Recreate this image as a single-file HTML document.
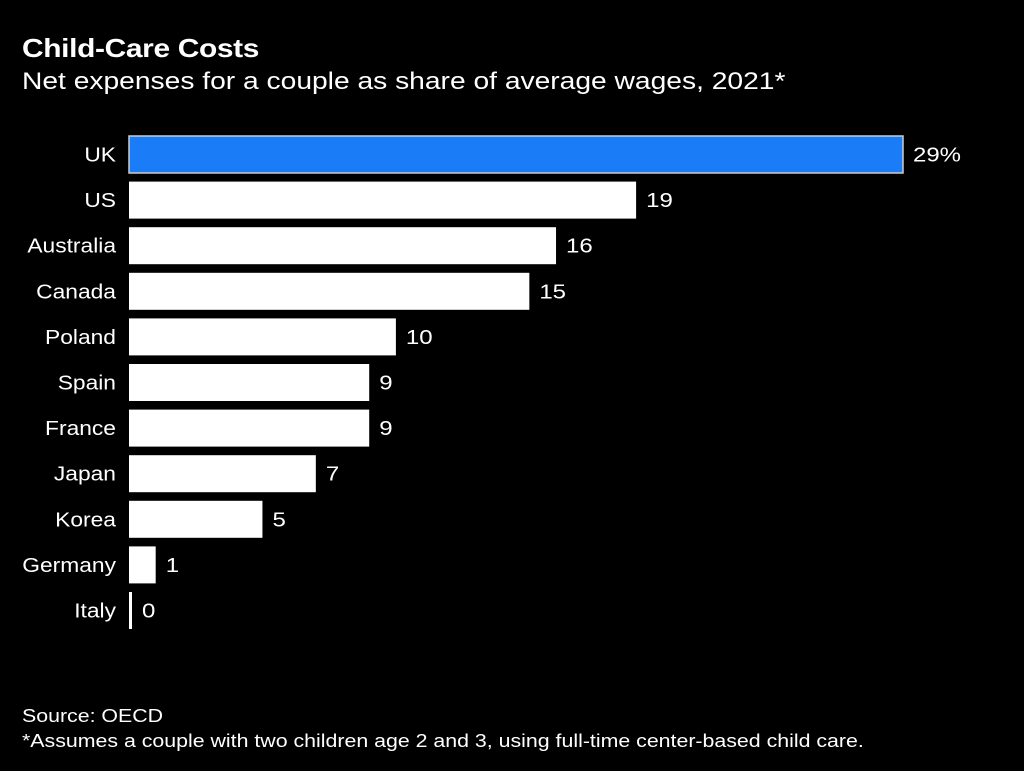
<!DOCTYPE html>
<html><head><meta charset="utf-8"><style>
body{margin:0;background:#000;width:1024px;height:771px;overflow:hidden;font-family:"Liberation Sans",sans-serif;color:#fff}
.t{position:absolute;white-space:nowrap;transform-origin:0 0}
</style></head><body>
<div class="t" style="left:22px;top:33px;font-size:26px;font-weight:bold;letter-spacing:-0.3px;transform:scaleX(1.15)">Child-Care Costs</div>
<div class="t" style="left:22px;top:68px;font-size:24px;transform:scaleX(1.175)">Net expenses for a couple as share of average wages, 2021*</div>
<svg id="c" width="1024" height="680" style="position:absolute;left:0;top:0"></svg>
<div class="t" style="left:22px;top:706px;font-size:18px;transform:scaleX(1.185)">Source: OECD</div>
<div class="t" style="left:22px;top:731px;font-size:18px;transform:scaleX(1.185)">*Assumes a couple with two children age 2 and 3, using full-time center-based child care.</div>
<script>
const categories=["UK","US","Australia","Canada","Poland","Spain","France","Japan","Korea","Germany","Italy"];
const values=[29,19,16,15,10,9,9,7,5,1,0.1];
const labels=["29%","19","16","15","10","9","9","7","5","1","0"];
const svg=document.getElementById('c');const NS="http://www.w3.org/2000/svg";
const x0=129,scale=(903-129)/29,y0=136,step=45.6,bh=37;
const xs=v=>Math.max(v*scale,3);
categories.forEach((c,i)=>{
 const y=y0+i*step;
 const r=document.createElementNS(NS,'rect');
 
 
 r.setAttribute('x',x0);r.setAttribute('y',y);r.setAttribute('width',xs(values[i]));r.setAttribute('height',bh);
 r.setAttribute('fill',i==0?'#1a7cf6':'#fff');
 if(i==0){r.setAttribute('stroke','#ccc');r.setAttribute('stroke-width','1.5');}
 svg.appendChild(r);
 const t=document.createElementNS(NS,'text');
 
 
 t.setAttribute('transform','translate(116,'+(y+bh/2+7)+') scale(1.14,1)');
 t.setAttribute('text-anchor','end');
 t.setAttribute('fill','#fff');t.setAttribute('font-size','20');t.textContent=c;svg.appendChild(t);
 const v=document.createElementNS(NS,'text');
 
 
 v.setAttribute('transform','translate('+(x0+xs(values[i])+10)+','+(y+bh/2+7)+') scale(1.2,1)');
 v.setAttribute('fill','#fff');v.setAttribute('font-size','20');v.textContent=labels[i];svg.appendChild(v);
});
</script>
</body></html>
